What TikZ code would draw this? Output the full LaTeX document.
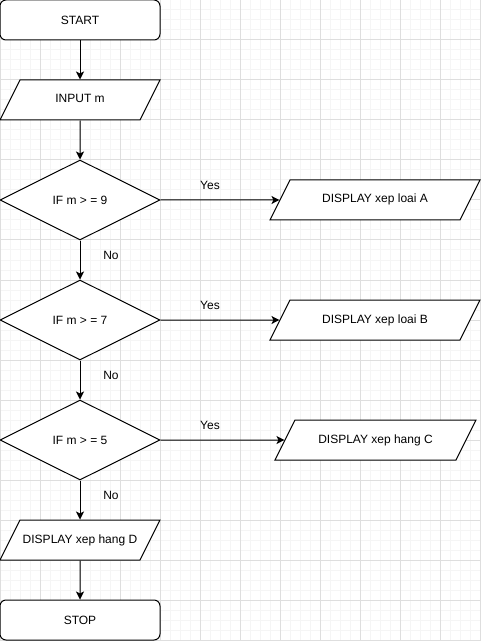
\documentclass[tikz,border=0pt]{standalone}
\usepackage{fontspec}
\setmainfont{Liberation Sans}
\usetikzlibrary{arrows.meta,shapes.geometric}

\tikzset{
  gridminor/.style={line width=0.75pt, black!4},
  gridmajor/.style={line width=0.75pt, black!13},
  term/.style={draw, line width=0.75pt, fill=white, rounded corners=4.5pt, minimum width=120pt, minimum height=30pt, inner sep=0pt},
  io/.style={draw, line width=0.75pt, fill=white, trapezium, trapezium left angle=63.43, trapezium right angle=116.57, trapezium stretches body, text height=6.5pt, text depth=2pt, inner xsep=0pt, inner ysep=10.75pt},
  test/.style={draw, line width=0.75pt, fill=white, diamond, aspect=2, minimum width=120pt, minimum height=60pt, inner sep=0pt},
  flow/.style={line width=0.75pt, -{Stealth[length=6pt, width=6pt, inset=1.5pt]}},
  answer/.style={inner sep=0pt}
}

\begin{document}
\begin{tikzpicture}[x=0.75pt, y=-0.75pt, font=\fontsize{9pt}{11pt}\selectfont]

\def\width{481}
\def\height{641}

\path [use as bounding box, fill=white] (0,0) rectangle (\width,\height);

% GRID
\foreach \x in {0,10,...,480} \draw [gridminor] (\x,0) -- (\x,\height);
\foreach \y in {0,10,...,640} \draw [gridminor] (0,\y) -- (\width,\y);
\foreach \x in {0,40,...,480} \draw [gridmajor] (\x,0) -- (\x,\height);
\foreach \y in {0,40,...,640} \draw [gridmajor] (0,\y) -- (\width,\y);

% MAIN LINE
\node [term] (start) at (80,20) {START};
\node [io, minimum width=120pt] (input) at (80,100) {INPUT m};
\node [test] (ifA) at (80,200) {IF m > = 9};
\node [test] (ifB) at (80,320) {IF m > = 7};
\node [test] (ifC) at (80,440) {IF m > = 5};
\node [io, minimum width=120pt] (outD) at (80,540) {DISPLAY xep hang D};
\node [term] (stop) at (80,620) {STOP};

% OUTPUTS
\node [io, minimum width=157.5pt] (outA) at (375,200) {DISPLAY xep loai A};
\node [io, minimum width=157.5pt] (outB) at (375,320) {DISPLAY xep loai B};
\node [io, minimum width=150.75pt] (outC) at (375.5,440) {DISPLAY xep hang C};

% LABELS
\node [answer] (yesA) at (210,185) {Yes};
\node [answer] (yesB) at (210,305) {Yes};
\node [answer] (yesC) at (210,425) {Yes};
\node [answer] (noA) at (111,255) {No};
\node [answer] (noB) at (111,375) {No};
\node [answer] (noC) at (111,495) {No};

% ARROWS
\draw [flow] (start) -- (input);
\draw [flow] (input) -- (ifA);
\draw [flow] (ifA) -- (ifB);
\draw [flow] (ifB) -- (ifC);
\draw [flow] (ifC) -- (outD);
\draw [flow] (outD) -- (stop);
\draw [flow] (ifA) -- (outA);
\draw [flow] (ifB) -- (outB);
\draw [flow] (ifC) -- (outC);

\end{tikzpicture}
\end{document}
